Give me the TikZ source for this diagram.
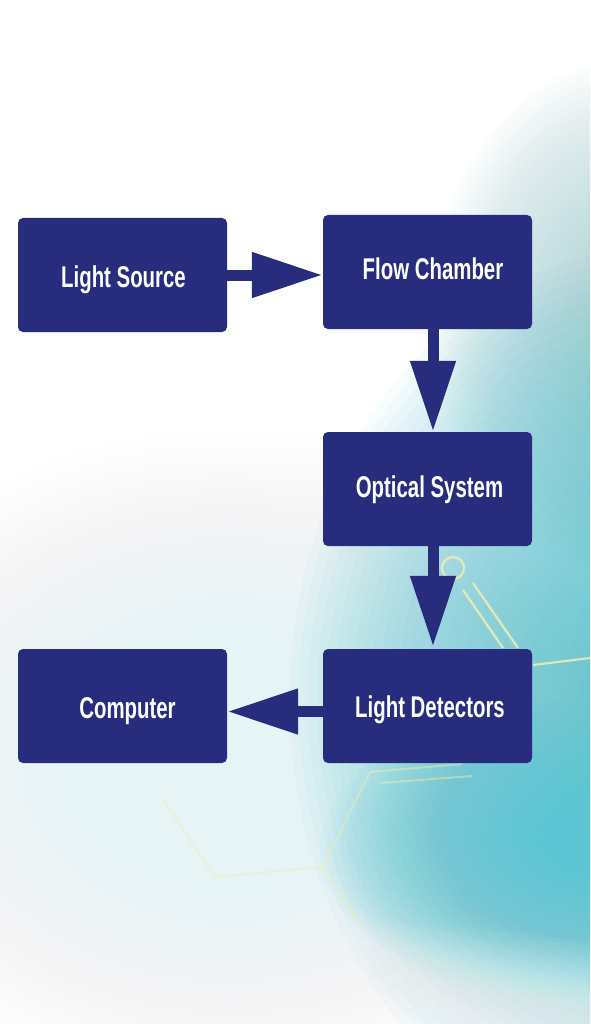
\documentclass[tikz,border=0pt]{standalone}
\usepackage{fontspec}
\setmainfont[FakeStretch=0.68]{Liberation Sans}
\usetikzlibrary{arrows.meta,calc}
\definecolor{boxblue}{HTML}{282C7C}
\definecolor{tealA}{HTML}{4ABFCF}
\definecolor{tealB}{HTML}{5CC6D4}
\definecolor{tealC}{HTML}{AED5D9}
\definecolor{tintA}{HTML}{E6F4F6}
\definecolor{decoY}{HTML}{F2EDB0}
\newcommand\bgglow[5]{%
  \foreach \k in {1,...,40}{%
    \fill[#1, opacity=0.04] (#2,#3) ellipse [x radius={#4/40*\k*1pt}, y radius={#5/40*\k*1pt}];
  }}
\tikzset{
  box/.style={fill=boxblue, draw=none, rounded corners=5pt, minimum width=209pt, minimum height=114pt, inner sep=0pt},
  lbl/.style={text=white, font=\fontsize{30}{30}\selectfont\bfseries, inner sep=0pt, anchor=base},
  flowarrow/.style={draw=boxblue, line width=11pt, -{Triangle[length=71pt,width=43pt]}},
  deco/.style={draw=decoY, line width=2.2pt, opacity=0.85},
  decofaint/.style={draw=decoY, line width=2pt, opacity=0.45}
}
\begin{document}
\begin{tikzpicture}[x=1pt,y=-1pt]
\useasboundingbox (0,0) rectangle (590,1024);
\begin{scope}
\clip (0,0) rectangle (590,1024);
\fill[white] (0,0) rectangle (590,1024);
\bgglow{tintA}{230}{760}{420}{330}
\bgglow{tealC}{630}{320}{200}{260}
\bgglow{tealA}{650}{700}{360}{450}
\bgglow{tealB}{590}{850}{270}{150}
\bgglow{white}{300}{1090}{580}{170}
\end{scope}
% background decoration
\draw[deco] (453,568) circle [radius=11pt];
\draw[deco] (463,590) -- (503,648);
\draw[deco] (473,583) -- (518,648);
\draw[deco] (533,665) -- (590,658);
\draw[decofaint] (370,772) -- (462,764);
\draw[decofaint] (380,783) -- (472,776);
\draw[decofaint] (370,772) -- (323,867) -- (215,877) -- (163,800);
\draw[decofaint] (323,867) -- (363,930);
% boxes
\node[box] (ls) at (122.5,275) {};
\node[box] (fc) at (427.5,272) {};
\node[box] (os) at (427.5,489) {};
\node[box] (ld) at (427.5,706) {};
\node[box] (cp) at (122.5,706) {};
% labels
\node[lbl] (lst) at (123.5,287) {Light Source};
\node[lbl] (fct) at (433,279) {Flow Chamber};
\node[lbl] (ost) at (429.5,497) {Optical System};
\node[lbl] (ldt) at (430,717) {Light Detectors};
\node[lbl] (cpt) at (127.5,718) {Computer};
% arrows
\draw[flowarrow] (ls.east) -- (ls.east -| fc.west);
\draw[flowarrow] ([xshift=5.5pt]fc.south) -- ([xshift=5.5pt]os.north);
\draw[flowarrow] ([xshift=5.5pt]os.south) -- ([xshift=5.5pt,yshift=2pt]ld.north);
\draw[flowarrow] ([yshift=-5.5pt]ld.west) -- ([yshift=-5.5pt]cp.east);
\end{tikzpicture}
\end{document}
